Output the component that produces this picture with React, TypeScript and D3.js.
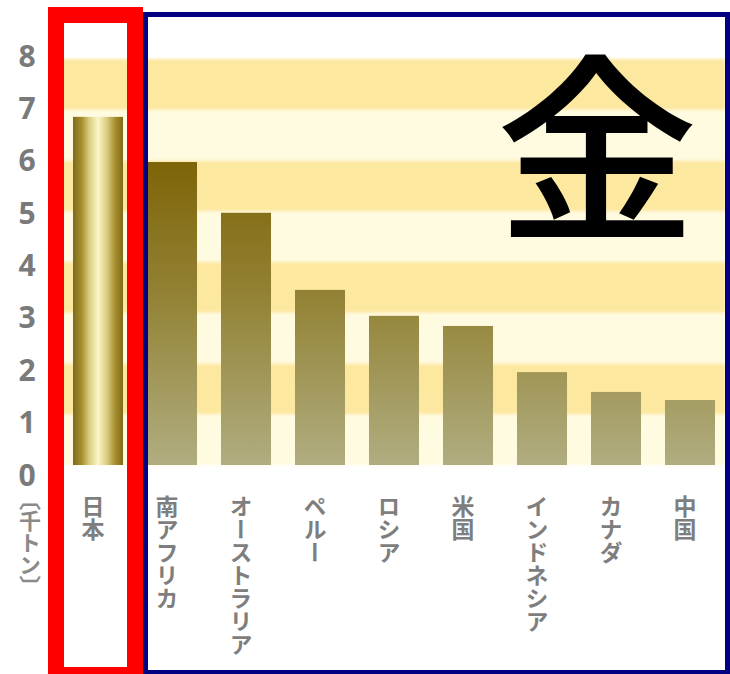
import React from "react";
import * as d3 from "d3";

const categories = ["日本", "南アフリカ", "オーストラリア", "ペルー", "ロシア", "米国", "インドネシア", "カナダ", "中国"];
const values = [6.86, 5.97, 4.97, 3.45, 2.94, 2.74, 1.83, 1.44, 1.28];
const yTicks = [0, 1, 2, 3, 4, 5, 6, 7, 8];
const bandRanges = [[0, 1], [1, 2], [2, 3], [3, 4], [4, 5], [5, 6], [6, 7], [7, 8]];
const unitLabel = "〔千トン〕";
const title = "金";

const W = 730;
const H = 674;

export default function App() {
  const x = d3.scaleBand<string>().domain(categories).range([61, 727]).paddingInner(0.324).paddingOuter(0.162);
  const y = d3.scaleLinear().domain([0, 8]).range([465, 59]);
  const yLab = d3.scaleLinear().domain([0, 8]).range([474, 55]);
  const cjk = "'Noto Sans CJK JP', sans-serif";

  return (
    <svg width={W} height={H} style={{ position: "absolute", left: 0, top: 0 }} xmlns="http://www.w3.org/2000/svg">
      <defs>
        <linearGradient id="barGrad" gradientUnits="userSpaceOnUse" x1="0" y1={y(6.4)} x2="0" y2={y(0)}>
          <stop offset="0" stopColor="#7a5f00" />
          <stop offset="0.5" stopColor="#948438" />
          <stop offset="1" stopColor="#b0ad80" />
        </linearGradient>
        <linearGradient id="jpGrad" x1="0" y1="0" x2="1" y2="0">
          <stop offset="0" stopColor="#7f6b18" />
          <stop offset="0.18" stopColor="#a89030" />
          <stop offset="0.32" stopColor="#d8cc80" />
          <stop offset="0.5" stopColor="#fbf6c6" />
          <stop offset="0.68" stopColor="#d8cc80" />
          <stop offset="0.84" stopColor="#a89030" />
          <stop offset="1" stopColor="#7f6b18" />
        </linearGradient>
        <filter id="soft" x="-5%" y="-5%" width="110%" height="110%">
          <feGaussianBlur stdDeviation="1.6" />
        </filter>
      </defs>
      <rect x={0} y={0} width={W} height={H} fill="#ffffff" />
      {/* bands */}
      <g filter="url(#soft)">
        {bandRanges.map(([a, b], i) => (
          <rect key={i} x={56} y={y(b)} width={670} height={y(a) - y(b)} fill={i % 2 === 1 ? "#fde8a0" : "#fffbe0"} />
        ))}
      </g>
      {/* bars */}
      {categories.map((c, i) => (
        <rect
          key={c}
          x={x(c)}
          y={y(values[i])}
          width={x.bandwidth()}
          height={y(0) - y(values[i])}
          fill={i === 0 ? "url(#jpGrad)" : "url(#barGrad)"}
        />
      ))}
      {/* y labels */}
      {yTicks.map((t) => (
        <text
          key={t}
          x={27}
          y={yLab(t)}
          textAnchor="middle"
          dominantBaseline="central"
          fontFamily="'Open Sans', sans-serif"
          fontWeight={700}
          fontSize={30}
          fill="#7a7a7a"
        >
          {t}
        </text>
      ))}
      <text
        x={30}
        y={488}
        fontFamily={cjk}
        fontSize={22}
        fontWeight={700}
        fill="#8a8a8a"
        style={{ writingMode: "vertical-rl" }}
      >
        {unitLabel}
      </text>
      {/* category labels */}
      {categories.map((c) => (
        <text
          key={c}
          x={(x(c) as number) + x.bandwidth() / 2 - 5}
          y={495}
          fontFamily={cjk}
          fontSize={23}
          fontWeight={700}
          fill="#7e7e7e"
          style={{ writingMode: "vertical-rl" }}
        >
          {c}
        </text>
      ))}
      {/* title */}
      <text x={597} y={226} textAnchor="middle" fontFamily={cjk} fontWeight={500} fontSize={202} fill="#000000">
        {title}
      </text>
      {/* frames */}
      <rect x={145.5} y={14.5} width={582} height={658} fill="none" stroke="#000080" strokeWidth={5} />
      <rect x={56} y={15} width={79} height={660} fill="none" stroke="#ff0000" strokeWidth={16} />
    </svg>
  );
}
